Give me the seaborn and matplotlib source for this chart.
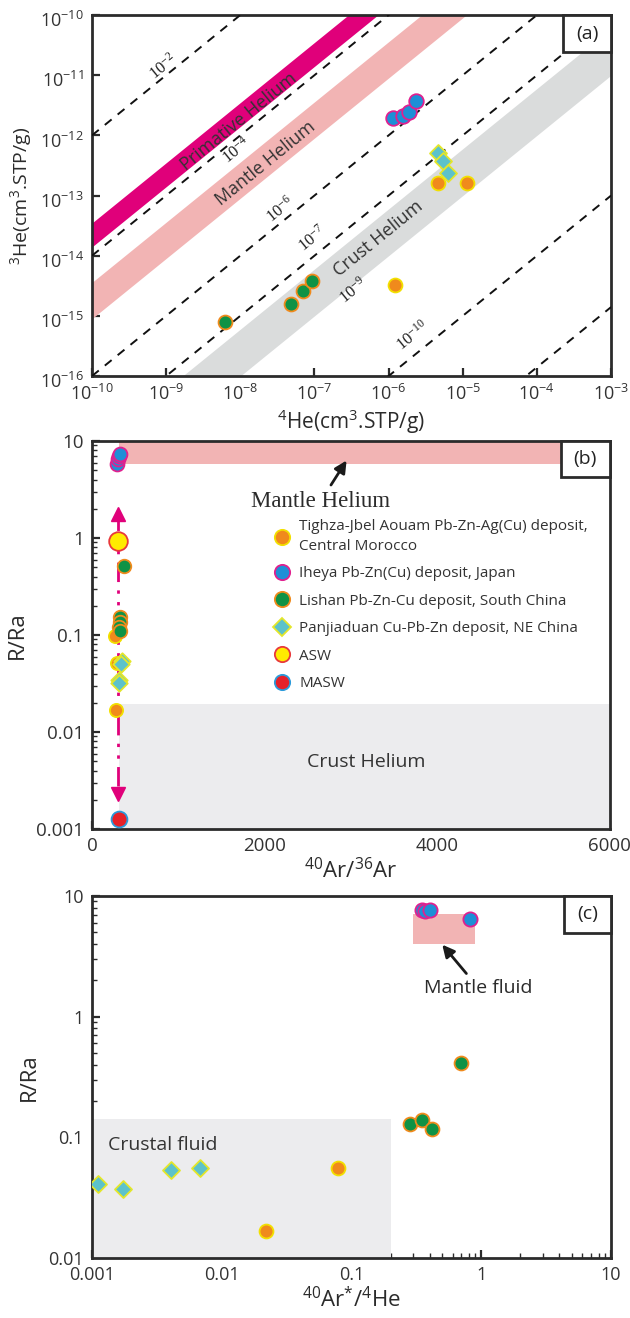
import numpy as np
import matplotlib
matplotlib.use("Agg")
import matplotlib.pyplot as plt
import matplotlib.transforms as mtransforms
import seaborn as sns
from matplotlib.patches import Rectangle
from matplotlib.lines import Line2D
from matplotlib.ticker import LogLocator, NullLocator, MultipleLocator, FuncFormatter

# ---------------- data: panel (a)  3He vs 4He ----------------
he4_tighza = [4.6e-6, 1.15e-5, 1.23e-6]
he3_tighza = [1.6e-13, 1.6e-13, 3.3e-15]
he4_iheya = [1.15e-6, 1.55e-6, 1.86e-6, 2.35e-6]
he3_iheya = [1.96e-12, 2.1e-12, 2.4e-12, 3.7e-12]
he4_lishan = [6.3e-9, 4.8e-8, 6.9e-8, 9.3e-8]
he3_lishan = [7.9e-16, 1.55e-15, 2.6e-15, 3.8e-15]
he4_panjia = [4.6e-6, 5.4e-6, 6.4e-6]
he3_panjia = [5.1e-13, 3.7e-13, 2.4e-13]

ratio_lines = [1e-2, 1e-4, 1e-6, 1e-7, 1e-10, 1.4e-12]
ratio_label_txt = ["-2", "-4", "-6", "-7", "-9", "-10"]
ratio_label_x = [9.1e-10, 8.9e-9, 3.5e-8, 9.5e-8, 3.3e-7, 2.1e-6]
ratio_label_y = [1.4e-11, 5.5e-13, 5.9e-14, 1.9e-14, 2.6e-15, 4.6e-16]

primordial_band = (1.4e-4, 3.5e-4)
mantle_band = (9e-6, 3.6e-5)
crust_band = (1e-8, 6e-8)

# ---------------- data: panel (b)  R/Ra vs 40Ar/36Ar ----------------
ar_tighza = [267, 290, 275]
rra_tighza = [0.098, 0.051, 0.0168]
ar_iheya = [294, 305, 315, 321]
rra_iheya = [5.8, 6.5, 7.0, 7.4]
ar_lishan = [370, 320, 325, 318, 322]
rra_lishan = [0.52, 0.155, 0.135, 0.12, 0.11]
ar_panjia = [345, 335, 313, 318]
rra_panjia = [0.054, 0.050, 0.034, 0.032]
ar_asw, rra_asw = [300], [0.93]
ar_masw, rra_masw = [310], [0.00126]
legend_labels = ["Tighza-Jbel Aouam Pb-Zn-Ag(Cu) deposit,\nCentral Morocco",
                 "Iheya Pb-Zn(Cu) deposit, Japan",
                 "Lishan Pb-Zn-Cu deposit, South China",
                 "Panjiaduan Cu-Pb-Zn deposit, NE China",
                 "ASW", "MASW"]

# ---------------- data: panel (c)  R/Ra vs 40Ar*/4He ----------------
arhe_tighza = [0.078, 0.022]
rrc_tighza = [0.056, 0.0169]
arhe_iheya = [0.35, 0.37, 0.40, 0.82]
rrc_iheya = [7.6, 7.5, 7.7, 6.4]
arhe_lishan = [0.70, 0.283, 0.35, 0.418]
rrc_lishan = [0.416, 0.130, 0.14, 0.117]
arhe_panjia = [0.00112, 0.00173, 0.00408, 0.00675]
rrc_panjia = [0.0413, 0.0371, 0.0533, 0.0561]

# ---------------- styles ----------------
sns.set_style("ticks")
plt.rcParams['font.family'] = ['Open Sans', 'DejaVu Sans']
plt.rcParams['mathtext.fontset'] = 'custom'
plt.rcParams['mathtext.rm'] = 'Open Sans'
plt.rcParams['text.color'] = '#2b2b2b'
plt.rcParams['axes.labelcolor'] = '#2b2b2b'

c_orange, e_orange = '#F08A1C', '#F2E000'
c_blue, e_blue = '#1E8FD6', '#E0208F'
c_green, e_green = '#0F9245', '#F08A1C'
c_cyan, e_cyan = '#5CC2CB', '#E4E62A'
c_magenta = '#E0007A'
c_pink = '#F2B4B4'
c_grey_a = '#DADCDC'
c_grey = '#ECECEE'
spine_c = '#2b2b2b'

fig = plt.figure(figsize=(6.3, 13.18), dpi=100)
ax_a = fig.add_axes([0.146, 0.7147, 0.824, 0.2739])
ax_b = fig.add_axes([0.146, 0.371, 0.822, 0.2944])
ax_c = fig.add_axes([0.146, 0.0455, 0.824, 0.2747])


def style_axes(ax):
    for s in ax.spines.values():
        s.set_linewidth(2.0)
        s.set_color(spine_c)
    ax.tick_params(which='major', direction='in', length=6, width=1.6, color=spine_c,
                   labelsize=12.5, labelcolor='#333333', pad=6)
    ax.tick_params(which='minor', direction='in', length=3.5, width=1.0, color=spine_c)


def panel_box(ax, label, w, h):
    ax.add_patch(Rectangle((1 - w, 1 - h), w, h, transform=ax.transAxes, facecolor='white',
                           edgecolor=spine_c, linewidth=2.0, zorder=20, clip_on=False))
    ax.text(1 - w / 2, 1 - h / 2, label, transform=ax.transAxes, ha='center', va='center',
            fontsize=14, color='#222222', zorder=21)


def pts(ax, x, y, fc, ec, s, marker='o', lw=1.3):
    sns.scatterplot(x=x, y=y, ax=ax, color=fc, edgecolor=ec, s=s, marker=marker,
                    linewidth=lw, zorder=10, legend=False)


def pow_fmt(v, pos):
    return r'$\mathregular{10^{%d}}$' % int(round(np.log10(v)))


def plain_fmt(v, pos):
    return '{:g}'.format(v)


# ================= panel (a) =================
ax = ax_a
ax.set_xscale('log')
ax.set_yscale('log')
ax.set_xlim(1e-10, 1e-3)
ax.set_ylim(1e-16, 1e-10)
xg = np.logspace(-10, -3, 60)
ax.fill_between(xg, primordial_band[0] * xg, primordial_band[1] * xg, color=c_magenta, lw=0, zorder=2)
ax.fill_between(xg, mantle_band[0] * xg, mantle_band[1] * xg, color=c_pink, lw=0, zorder=2)
ax.fill_between(xg, crust_band[0] * xg, crust_band[1] * xg, color=c_grey_a, lw=0, zorder=2)
for r in ratio_lines:
    ax.plot(xg, r * xg, color='#111111', lw=1.4, ls=(0, (4.5, 4)), zorder=3)

p1 = ax.transData.transform((1e-9, 1e-14))
p2 = ax.transData.transform((1e-5, 1e-10))
ang = np.degrees(np.arctan2(p2[1] - p1[1], p2[0] - p1[0]))

for t, x, y in zip(ratio_label_txt, ratio_label_x, ratio_label_y):
    ax.text(x, y, r'$\mathregular{10^{%s}}$' % t, family='Liberation Serif', fontsize=12,
            rotation=ang, ha='center', va='center', color='#222222', zorder=5)
ax.text(9.5e-9, 1.7e-12, 'Primative Helium', rotation=ang, ha='center', va='center',
        fontsize=13, color='#333333', zorder=5)
ax.text(2.2e-8, 3.4e-13, 'Mantle Helium', rotation=ang, ha='center', va='center',
        fontsize=13, color='#333333', zorder=5)
ax.text(7.2e-7, 1.9e-14, 'Crust Helium', rotation=ang, ha='center', va='center',
        fontsize=13, color='#333333', zorder=5)

pts(ax, he4_lishan, he3_lishan, c_green, e_green, 100)
pts(ax, he4_tighza, he3_tighza, c_orange, e_orange, 100)
pts(ax, he4_iheya, he3_iheya, c_blue, e_blue, 110)
pts(ax, he4_panjia, he3_panjia, c_cyan, e_cyan, 75, marker='D')

for axis in (ax.xaxis, ax.yaxis):
    axis.set_major_locator(LogLocator(base=10, numticks=20))
    axis.set_minor_locator(NullLocator())
    axis.set_major_formatter(FuncFormatter(pow_fmt))
style_axes(ax)
ax.tick_params(labelsize=13)
ax.set_xlabel(r'$\mathregular{^4}$He(cm$\mathregular{^3}$.STP/g)', fontsize=15, labelpad=2)
ax.set_ylabel(r'$\mathregular{^3}$He(cm$\mathregular{^3}$.STP/g)', fontsize=14, labelpad=4)
panel_box(ax, '(a)', 0.0925, 0.1025)

# ================= panel (b) =================
ax = ax_b
ax.set_yscale('log')
ax.set_xlim(0, 6000)
ax.set_ylim(0.001, 10)
ax.fill_between([315, 6000], 5.8, 10, color=c_pink, lw=0, zorder=1)
ax.fill_between([315, 6000], 0.001, 0.0193, color=c_grey, lw=0, zorder=1)
ax.plot([305, 305], [0.0028, 1.5], color=c_magenta, lw=2.0,
        ls=(0, (7, 3, 1.2, 3, 1.2, 3)), zorder=4)
ax.plot([305], [1.75], marker='^', color=c_magenta, ms=10, ls='none', zorder=4)
ax.plot([305], [0.0023], marker='v', color=c_magenta, ms=10, ls='none', zorder=4)

pts(ax, ar_tighza, rra_tighza, c_orange, e_orange, 90)
pts(ax, ar_iheya, rra_iheya, c_blue, e_blue, 100)
pts(ax, ar_lishan, rra_lishan, c_green, e_green, 95)
pts(ax, ar_panjia, rra_panjia, c_cyan, e_cyan, 70, marker='D')
pts(ax, ar_asw, rra_asw, '#FFEB00', '#E8383B', 180)
pts(ax, ar_masw, rra_masw, '#E62129', '#2B9BDB', 130)

ax.annotate('Mantle Helium', xy=(2950, 6.3), xytext=(2650, 2.4),
            family='Liberation Serif', fontsize=16.5, ha='center', va='center', color='#2b2b2b',
            arrowprops=dict(arrowstyle='-|>', color='#1a1a1a', lw=2.0, mutation_scale=18,
                            shrinkA=2, shrinkB=0), zorder=6)
ax.text(3180, 0.0049, 'Crust Helium', fontsize=14, ha='center', va='center', color='#333333')

handles = [
    Line2D([], [], ls='none', marker='o', ms=11, mfc=c_orange, mec=e_orange, mew=1.3),
    Line2D([], [], ls='none', marker='o', ms=11, mfc=c_blue, mec=e_blue, mew=1.3),
    Line2D([], [], ls='none', marker='o', ms=11, mfc=c_green, mec=e_green, mew=1.3),
    Line2D([], [], ls='none', marker='D', ms=9, mfc=c_cyan, mec=e_cyan, mew=1.3),
    Line2D([], [], ls='none', marker='o', ms=11, mfc='#FFEB00', mec='#E8383B', mew=1.3),
    Line2D([], [], ls='none', marker='o', ms=11, mfc='#E62129', mec='#2B9BDB', mew=1.3),
]
leg = ax.legend(handles, legend_labels, loc='upper left', bbox_to_anchor=(0.335, 0.818),
                frameon=False, fontsize=11, labelspacing=0.82, handletextpad=0.5,
                borderpad=0, handlelength=1.2)
for t in leg.get_texts():
    t.set_color('#333333')
    t.set_linespacing(1.4)

ax.xaxis.set_major_locator(MultipleLocator(2000))
ax.xaxis.set_minor_locator(MultipleLocator(400))
ax.yaxis.set_major_locator(LogLocator(base=10, numticks=10))
ax.yaxis.set_minor_locator(LogLocator(base=10, subs=np.arange(2, 10), numticks=10))
ax.yaxis.set_major_formatter(FuncFormatter(plain_fmt))
style_axes(ax)
ax.tick_params(labelsize=13.5)
ax.set_xlabel(r'$\mathregular{^{40}}$Ar/$\mathregular{^{36}}$Ar', fontsize=16, labelpad=2)
ax.set_ylabel('R/Ra', fontsize=16, labelpad=6)
panel_box(ax, '(b)', 0.0946, 0.0928)

# ================= panel (c) =================
ax = ax_c
ax.set_xscale('log')
ax.set_yscale('log')
ax.set_xlim(0.001, 10)
ax.set_ylim(0.01, 10)
ax.fill_between([0.001, 0.201], 0.01, 0.143, color=c_grey, lw=0, zorder=1)
ax.fill_between([0.30, 0.887], 4.03, 7.14, color=c_pink, lw=0, zorder=1)

pts(ax, arhe_tighza, rrc_tighza, c_orange, e_orange, 100)
pts(ax, arhe_iheya, rrc_iheya, c_blue, e_blue, 105)
pts(ax, arhe_lishan, rrc_lishan, c_green, e_green, 100)
pts(ax, arhe_panjia, rrc_panjia, c_cyan, e_cyan, 75, marker='D')

ax.annotate('Mantle fluid', xy=(0.50, 3.95), xytext=(0.95, 1.73),
            fontsize=14, ha='center', va='center', color='#2b2b2b',
            arrowprops=dict(arrowstyle='-|>', color='#1a1a1a', lw=2.0, mutation_scale=18,
                            shrinkA=2, shrinkB=0), zorder=6)
ax.text(0.00133, 0.087, 'Crustal fluid', fontsize=14, ha='left', va='center', color='#333333')

for axis in (ax.xaxis, ax.yaxis):
    axis.set_major_locator(LogLocator(base=10, numticks=10))
    axis.set_minor_locator(LogLocator(base=10, subs=np.arange(2, 10), numticks=10))
    axis.set_major_formatter(FuncFormatter(plain_fmt))
style_axes(ax)
ax.tick_params(labelsize=13)
ax.set_xlabel(r'$\mathregular{^{40}}$Ar$\mathregular{^{*}}$/$\mathregular{^{4}}$He', fontsize=16, labelpad=2)
ax.set_ylabel('R/Ra', fontsize=16, labelpad=6)
panel_box(ax, '(c)', 0.09, 0.102)

# nudge the (a) y tick labels down a little, like the original
fig.canvas.draw()
shift = mtransforms.ScaledTranslation(0, -3 / 72, fig.dpi_scale_trans)
for tick in ax_a.yaxis.get_major_ticks():
    tick.label1.set_transform(tick.label1.get_transform() + shift)

fig.savefig('out.png', dpi=100)
